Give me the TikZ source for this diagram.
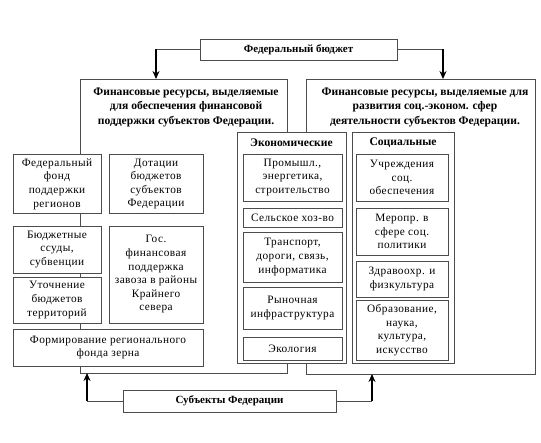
\documentclass[tikz,border=0pt]{standalone}
\usepackage{fontspec}
\setmainfont{Liberation Serif}
\newfontfamily\spacedfont[LetterSpace=4]{Liberation Serif}
\usetikzlibrary{arrows.meta}
\begin{document}
\begin{tikzpicture}[x=1pt,y=-1pt,
  box/.style={draw=black!70, line width=0.9pt, fill=white, align=center, inner sep=1pt,
    font=\spacedfont\fontsize{11.3}{13.6}\selectfont},
  bigbox/.style={draw=black!70, line width=0.9pt, fill=white},
  head/.style={align=center, font=\fontsize{11.6}{14.5}\selectfont\bfseries},
  thin/.style={draw=black!70, line width=0.9pt},
  arr/.style={line width=2pt, -{Stealth[length=8pt,width=7pt]}}]
\useasboundingbox (0,0) rectangle (541,443);
\fill[white] (0,0) rectangle (541,443);
% big boxes
\draw[bigbox] (80,79) rectangle (287,373);
\draw[bigbox] (306,79) rectangle (535,374);
\coordinate (Ltop) at (156,79);
\coordinate (Rtop) at (443,79);
\coordinate (Lbot) at (87,373);
\coordinate (Rbot) at (372,374);
\node[head] (lhead) at (186,107) {Финансовые ресурсы, выделяемые\\для обеспечения финансовой\\поддержки субъектов Федерации.};
\node[head] (rhead) at (425,107) {Финансовые ресурсы, выделяемые для\\развития соц.-эконом. сфер\\деятельности субъектов Федерации.};
% top
\node[box, font=\fontsize{11}{13.5}\selectfont\bfseries, minimum width=197, minimum height=21] (fb) at (298.5,49.5) {Федеральный бюджет};
\draw[thin] (fb.west) -- (156,49.5) coordinate (fbl);
\draw[arr] (fbl) -- (Ltop);
\draw[thin] (fb.east) -- (443,49.5) coordinate (fbr);
\draw[arr] (fbr) -- (Rtop);
% left column
\node[box, minimum width=88, minimum height=59] (ffp) at (57,184) {Федеральный\\фонд\\поддержки\\регионов};
\node[box, minimum width=94, minimum height=59] (dot) at (156,184) {Дотации\\бюджетов\\субъектов\\Федерации};
\node[box, minimum width=88, minimum height=47] (bud) at (57,249.5) {Бюджетные\\ссуды,\\субвенции};
\node[box, minimum width=94, minimum height=97] (gos) at (156,274.5) {Гос.\\финансовая\\поддержка\\завоза в районы\\Крайнего\\севера};
\node[box, minimum width=88, minimum height=46] (uto) at (57,300) {Уточнение\\бюджетов\\территорий};
\node[box, minimum width=190, minimum height=37] (form) at (108,347.5) {Формирование регионального\\фонда зерна};
% economic
\node[box, minimum width=109, minimum height=231] (econ) at (291.5,247.5) {};
\node[head] (econh) at (291.5,143) {Экономические};
\node[box, minimum width=99, minimum height=47] (prom) at (292.5,177.5) {Промышл.,\\энергетика,\\строительство};
\node[box, minimum width=99, minimum height=19] (sel) at (292.5,217.5) {Сельское хоз-во};
\node[box, minimum width=99, minimum height=50] (tr) at (292.5,257) {Транспорт,\\дороги, связь,\\информатика};
\node[box, minimum width=99, minimum height=42] (ryn) at (292.5,308) {Рыночная\\инфраструктура};
\node[box, minimum width=99, minimum height=23] (eco) at (292.5,348.5) {Экология};
% social
\node[box, minimum width=102, minimum height=231] (soc) at (403,247.5) {};
\node[head] (soch) at (403,143) {Социальные};
\node[box, minimum width=92, minimum height=47] (uch) at (402,177.5) {Учреждения\\соц.\\обеспечения};
\node[box, minimum width=92, minimum height=47] (mer) at (402,231.5) {Меропр. в\\сфере соц.\\политики};
\node[box, minimum width=92, minimum height=36] (zdr) at (402,279) {Здравоохр. и\\физкультура};
\node[box, minimum width=92, minimum height=60] (obr) at (402,330) {Образование,\\наука,\\культура,\\искусство};
% bottom
\node[box, font=\fontsize{11}{13.5}\selectfont\bfseries, minimum width=213, minimum height=22] (subj) at (229.5,401) {Субъекты Федерации};
\draw[thin] (subj.west) -- (87,401) coordinate (sbl);
\draw[arr] (sbl) -- (Lbot);
\draw[thin] (subj.east) -- (372,401) coordinate (sbr);
\draw[arr] (sbr) -- (Rbot);
\end{tikzpicture}
\end{document}
